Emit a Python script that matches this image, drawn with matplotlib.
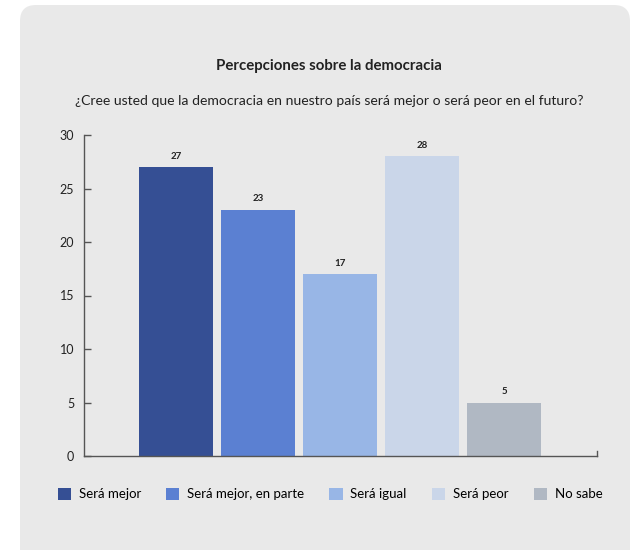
import matplotlib
matplotlib.use("Agg")
import matplotlib.pyplot as plt
from matplotlib.patches import FancyBboxPatch, Patch

plt.rcParams["font.family"] = ["Lato", "DejaVu Sans"]

categories = ["Será mejor", "Será mejor, en parte", "Será igual", "Será peor", "No sabe"]
values = [27, 23, 17, 28, 5]
colors = ["#354f94", "#5b80d2", "#98b6e6", "#cad6e9", "#b0b8c3"]
yticks = [0, 5, 10, 15, 20, 25, 30]

W, H = 632, 550
fig = plt.figure(figsize=(W / 100, H / 100), dpi=100)
fig.patch.set_facecolor("white")

bg = fig.add_axes([0, 0, 1, 1], zorder=-1)
bg.set_axis_off()
bg.set_xlim(0, W)
bg.set_ylim(H, 0)
panel = FancyBboxPatch((20, 5), 610, 570,
                       boxstyle="round,pad=0,rounding_size=16",
                       facecolor="#e9e9e9", edgecolor="none")
bg.add_patch(panel)

ax = fig.add_axes([84 / W, (H - 456) / H, (597 - 84) / W, (456 - 135) / H])
ax.set_facecolor("none")
x = list(range(len(categories)))
ax.bar(x, values, width=0.9, color=colors, zorder=2)
for xi, v in zip(x, values):
    ax.text(xi, v + 0.6, str(v), ha="center", va="bottom", fontsize=7,
            fontweight="bold", color="#222222")

ax.set_xlim(-1.12, 5.13)
ax.set_ylim(0, 30)
ax.set_yticks(yticks)
ax.set_yticklabels([str(t) for t in yticks], fontsize=9, color="#222222")
ax.set_xticks([])
ax.tick_params(axis="y", direction="in", length=5, width=1, color="#555555", pad=7)
for s in ["top", "right"]:
    ax.spines[s].set_visible(False)
for s in ["left", "bottom"]:
    ax.spines[s].set_color("#555555")
    ax.spines[s].set_linewidth(1)
ax.plot([5.13, 5.13], [0, 0.5], color="#555555", lw=1, clip_on=False)

fig.text(329 / W, 1 - 66 / H, "Percepciones sobre la democracia", ha="center",
         va="center", fontsize=10.8, fontweight="bold", color="#222222")
fig.text(329 / W, 1 - 101 / H,
         "¿Cree usted que la democracia en nuestro país será mejor o será peor en el futuro?",
         ha="center", va="center", fontsize=10.1, color="#222222")

handles = [Patch(facecolor=c, edgecolor="none") for c in colors]
fig.legend(handles, categories, loc="center", bbox_to_anchor=(330 / W, 1 - 494 / H),
           ncol=5, frameon=False, fontsize=9.5, handlelength=1.0, handleheight=1.0,
           handletextpad=0.6, columnspacing=1.9)

fig.savefig("out.png", dpi=100)
